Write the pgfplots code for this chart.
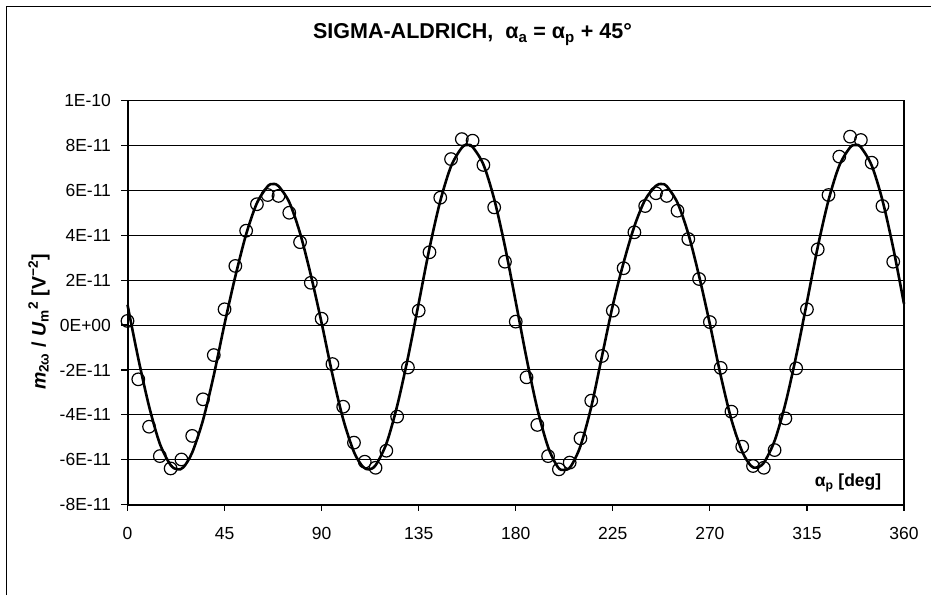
\documentclass[border=0pt]{standalone}
\usepackage{fontspec}
\setmainfont{Liberation Sans}
\usepackage{pgfplots}
\pgfplotsset{compat=1.18}
\begin{document}
\begin{tikzpicture}[x=1pt,y=1pt]
\useasboundingbox (0,0) rectangle (931,595);
% chart frame
\draw[line width=1pt] (6.5,0) -- (6.5,588.5) -- (931,588.5);

\begin{axis}[
    at={(127.5pt,90.4pt)}, anchor=south west,
    scale only axis, width=776.5pt, height=404.1pt,
    xmin=0, xmax=360, ymin=-8, ymax=10,
    xtick={0,45,...,360},
    ytick={-8,-6,...,10},
    yticklabels={-8E-11,-6E-11,-4E-11,-2E-11,0E+00,2E-11,4E-11,6E-11,8E-11,1E-10},
    ymajorgrids,
    grid style={black, line width=1pt},
    tick pos=left, tick align=outside, major tick length=6pt,
    tick style={black, line width=1.2pt},
    axis line style={line width=1.3pt},
    ticklabel style={font=\fontsize{17.5}{20}\selectfont},
    xticklabel style={yshift=-13pt},
    yticklabel style={xshift=-7pt},
    /pgf/number format/assume math mode=true,
    clip=false,
  ]
  \draw[line width=2pt] (rel axis cs:0,0) -- (rel axis cs:0,1);
  \draw[line width=2pt] (rel axis cs:0,0) -- (rel axis cs:1,0);

  % fitted curve
  \addplot[black, line width=2.6pt, smooth, tension=0.5, no markers] coordinates {
    (0,0.90) (5,-1.49) (10,-3.62) (15,-5.29) (20,-6.24) (23.3,-6.43) (26,-6.33)
    (30,-5.68) (35,-4.24) (40,-2.24) (45,0.05) (50,2.17) (55,4.04) (60,5.43)
    (65,6.18) (67.6,6.28) (70,6.19) (75,5.47) (80,4.09) (85,2.22) (90,0.09)
    (95,-2.20) (100,-4.20) (105,-5.66) (109,-6.30) (111.8,-6.43) (115,-6.25)
    (120,-5.29) (125,-3.61) (130,-1.46) (135,0.97) (140,3.42) (145,5.52)
    (150,7.07) (155,7.90) (157.7,8.02) (160,7.93) (165,7.15) (170,5.61)
    (175,3.50) (180,1.03) (185,-1.48) (190,-3.73) (195,-5.44) (199.5,-6.33)
    (202.4,-6.46) (205.5,-6.30) (210,-5.39) (215,-3.65) (220,-1.38) (225,0.88)
    (230,2.78) (235,4.40) (240,5.58) (245,6.20) (247.5,6.28) (250,6.18)
    (255,5.44) (260,4.06) (265,2.18) (270,0.04) (275,-2.24) (280,-4.22)
    (285,-5.64) (289,-6.27) (291.5,-6.35) (295,-6.14) (300,-5.16) (305,-3.51)
    (310,-1.38) (315,1.02) (320,3.47) (325,5.56) (330,7.10) (335,7.91)
    (337.6,8.02) (340,7.92) (345,7.11) (350,5.56) (355,3.43) (360,0.94)
  };

  % measured points
  \addplot[black, only marks, mark=o, mark size=6.3pt, mark options={line width=1.2pt}] coordinates {
    (0,0.18) (5,-2.42) (10,-4.53) (15,-5.84) (20,-6.39) (25,-5.99) (30,-4.94)
    (35,-3.31) (40,-1.34) (45,0.70) (50,2.63) (55,4.20) (60,5.38) (65,5.79)
    (70,5.75) (75,5.00) (80,3.69) (85,1.88) (90,0.28) (95,-1.74) (100,-3.64)
    (105,-5.24) (110,-6.09) (115,-6.36) (120,-5.60) (125,-4.08) (130,-1.89)
    (135,0.64) (140,3.24) (145,5.67) (150,7.39) (155,8.28) (160,8.21)
    (165,7.13) (170,5.24) (175,2.82) (180,0.15) (185,-2.33) (190,-4.45)
    (195,-5.84) (200,-6.43) (205,-6.13) (210,-5.05) (215,-3.37) (220,-1.38)
    (225,0.64) (230,2.53) (235,4.13) (240,5.30) (245,5.87) (250,5.75)
    (255,5.09) (260,3.83) (265,2.05) (270,0.13) (275,-1.91) (280,-3.86)
    (285,-5.42) (290,-6.28) (295,-6.36) (300,-5.57) (305,-4.16) (310,-1.93)
    (315,0.70) (320,3.37) (325,5.79) (330,7.50) (335,8.39) (340,8.24)
    (345,7.23) (350,5.30) (355,2.82)
  };
\end{axis}

% title
\node[anchor=base, font=\fontsize{21.5}{25}\selectfont\bfseries] at (472.5,556)
  {SIGMA-ALDRICH,\ \ α\textsubscript{a} = α\textsubscript{p} + 45°};
% y label
\node[rotate=90, font=\fontsize{19.5}{22}\selectfont\bfseries] at (39,273)
  {\textit{m}\textsubscript{2ω} / \textit{U}\textsubscript{m}\textsuperscript{2} [V\textsuperscript{−2}]};
% x label inside the plot area
\node[font=\fontsize{17.5}{20}\selectfont\bfseries] at (848,112)
  {α\textsubscript{p} [deg]};
\end{tikzpicture}
\end{document}
